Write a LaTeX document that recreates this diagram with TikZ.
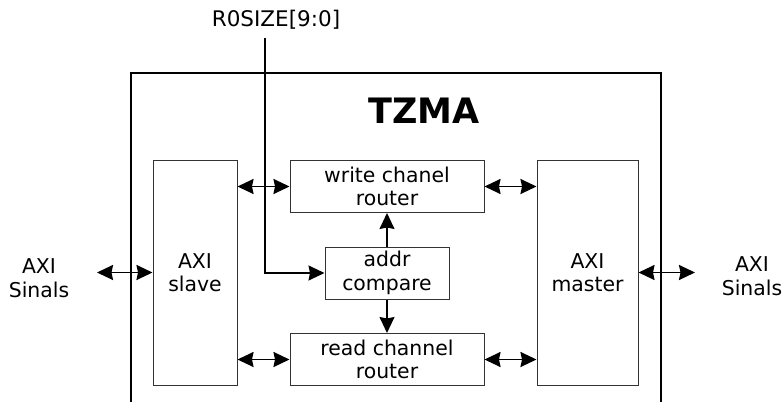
\documentclass[tikz,border=0pt]{standalone}
\usepackage{fontspec}
\setmainfont{DejaVu Sans}
\usetikzlibrary{arrows.meta}
\begin{document}
\begin{tikzpicture}[x=1pt,y=-1pt,
  >={Stealth[length=16pt,width=15pt,inset=1.5pt]},
  blk/.style={draw=black!80, line width=1pt, rectangle, inner sep=0pt,
    align=center, font=\fontsize{20.4}{23.5}\selectfont},
  lbl/.style={align=center, inner sep=0pt, font=\fontsize{20.4}{23.5}\selectfont},
  link/.style={line width=1.8pt, <->},
  feed/.style={line width=1.4pt, ->},
  frame/.style={line width=1.6pt}]
\useasboundingbox (0,0) rectangle (783,401);

% enclosing TZMA block (its bottom edge runs off the page)
\coordinate (fbl) at (131,402);
\coordinate (ftl) at (131,73);
\coordinate (ftr) at (661,73);
\coordinate (fbr) at (661,402);
\draw[frame] (fbl) -- (ftl) -- (ftr) -- (fbr);
\node[font=\fontsize{35}{40}\selectfont\bfseries, inner sep=0pt] (title) at (424,111) {TZMA};

% functional blocks
\node[blk, minimum width=84pt, minimum height=225pt] (slave) at (195,272.5) {AXI\\slave};
\node[blk, minimum width=101pt, minimum height=225pt] (master) at (587.5,272.5) {AXI\\master};
\node[blk, minimum width=194pt, minimum height=52pt] (wr) at (387,186.5) {write chanel\\router};
\node[blk, minimum width=124pt, minimum height=52pt] (addr) at (387,273) {addr\\compare};
\node[blk, minimum width=194pt, minimum height=52pt] (rd) at (387,359.5) {read channel\\router};

% external signals
\node[lbl] (lsig) at (39,278) {AXI\\Sinals};
\node[lbl] (rsig) at (752,276) {AXI\\Sinals};
\node[lbl, font=\fontsize{21.5}{25}\selectfont] (size) at (276,20) {R0SIZE[9:0]};
\coordinate (lend) at (97,272.5);
\coordinate (rend) at (695,272.5);
\coordinate (stop) at (265,38);

% data paths
\draw[link] (lend) -- (slave.west);
\draw[link] (master.east) -- (rend);
\draw[link] (slave.east |- wr.west) -- (wr.west);
\draw[link] (wr.east) -- (master.west |- wr.east);
\draw[link] (slave.east |- rd.west) -- (rd.west);
\draw[link] (rd.east) -- (master.west |- rd.east);

% address check paths
\draw[feed] (stop) |- (addr.west);
\draw[feed] (addr.north) -- (wr.south);
\draw[feed] (addr.south) -- (rd.north);
\end{tikzpicture}
\end{document}
